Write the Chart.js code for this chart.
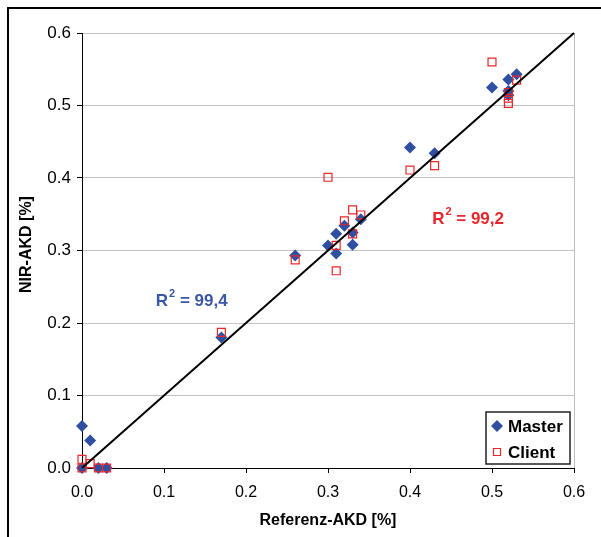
<!DOCTYPE html>
<html>
<head>
<meta charset="utf-8">
<script src="https://cdn.jsdelivr.net/npm/chart.js@4.4.1/dist/chart.umd.min.js"></script>
<style>
  html, body { margin: 0; padding: 0; background: #fff; }
  #wrap { position: relative; width: 601px; height: 537px; }
</style>
</head>
<body>
<div id="wrap"><canvas id="c" width="601" height="537"></canvas></div>
<script>
// ---- data ----
const seriesNames = ["Master", "Client"];
const masterX = [0, 0.01, 0, 0.02, 0.03, 0.17, 0.26, 0.30, 0.31, 0.31, 0.32, 0.33, 0.33, 0.34, 0.40, 0.43, 0.50, 0.52, 0.52, 0.52, 0.53];
const masterY = [0.058, 0.038, 0, 0, 0, 0.180, 0.293, 0.307, 0.323, 0.296, 0.334, 0.308, 0.325, 0.343, 0.442, 0.434, 0.525, 0.536, 0.520, 0.514, 0.543];
const clientX = [0, 0, 0.01, 0.02, 0.03, 0.17, 0.26, 0.30, 0.31, 0.31, 0.32, 0.33, 0.33, 0.34, 0.40, 0.43, 0.50, 0.52, 0.52, 0.52, 0.53];
const clientY = [0.012, 0, 0.006, 0, 0, 0.187, 0.287, 0.401, 0.307, 0.272, 0.341, 0.356, 0.323, 0.349, 0.411, 0.417, 0.560, 0.518, 0.503, 0.510, 0.535];
const lineX = [0, 0.6];
const lineY = [0, 0.6];
const tickValues = [0, 0.1, 0.2, 0.3, 0.4, 0.5, 0.6];
const xTitle = "Referenz-AKD [%]";
const yTitle = "NIR-AKD [%]";
const r2Labels = [
  { text: "R", sup: "2", rest: " = 99,4", x: 0.09, y: 0.23, color: "#3A56A6" },
  { text: "R", sup: "2", rest: " = 99,2", x: 0.427, y: 0.343, color: "#E8262B" }
];

const toPts = (xs, ys) => xs.map((x, i) => ({ x: x, y: ys[i] }));
const FONT = "'Liberation Sans', Arial, sans-serif";
const BLUE = "#2F4FA0";
const RED = "#E8262B";

const framePlugin = {
  id: "frame",
  beforeDraw(chart) {
    const ctx = chart.ctx;
    ctx.save();
    ctx.fillStyle = "#fff";
    ctx.fillRect(0, 0, chart.width, chart.height);
    ctx.strokeStyle = "#000";
    ctx.lineWidth = 2;
    ctx.beginPath();
    ctx.moveTo(8, chart.height);
    ctx.lineTo(8, 8);
    ctx.lineTo(chart.width, 8);
    ctx.stroke();
    ctx.restore();
  },
  beforeDatasetsDraw(chart) {
    const ctx = chart.ctx, a = chart.chartArea;
    ctx.save();
    ctx.strokeStyle = "#BDBDBD";
    ctx.lineWidth = 1;
    ctx.beginPath();
    ctx.moveTo(Math.round(a.right) + 0.5, a.top);
    ctx.lineTo(Math.round(a.right) + 0.5, a.bottom);
    ctx.stroke();
    ctx.restore();
  },
  afterDraw(chart) {
    const ctx = chart.ctx, a = chart.chartArea;
    const xs = chart.scales.x, ys = chart.scales.y;
    ctx.save();
    // y axis title (slightly above the axis centre, as in the reference)
    ctx.save();
    ctx.translate(27, (a.top + a.bottom) / 2 - 6);
    ctx.rotate(-Math.PI / 2);
    ctx.fillStyle = "#000";
    ctx.font = "bold 16px " + FONT;
    ctx.textAlign = "center";
    ctx.textBaseline = "middle";
    ctx.fillText(yTitle, 0, 0);
    ctx.restore();
    // R² labels
    r2Labels.forEach(l => {
      let px = xs.getPixelForValue(l.x), py = ys.getPixelForValue(l.y);
      ctx.fillStyle = l.color;
      ctx.textBaseline = "middle";
      ctx.textAlign = "left";
      ctx.font = "bold 17px " + FONT;
      ctx.fillText(l.text, px, py);
      px += ctx.measureText(l.text).width + 1;
      ctx.font = "bold 11px " + FONT;
      ctx.fillText(l.sup, px, py - 7);
      px += ctx.measureText(l.sup).width;
      ctx.font = "bold 17px " + FONT;
      ctx.fillText(l.rest, px, py);
    });
    // legend box
    const bw = 84, bh = 52;
    const bx = a.right - 88, by = a.bottom - 56;
    ctx.fillStyle = "#fff";
    ctx.fillRect(bx, by, bw, bh);
    ctx.strokeStyle = "#222";
    ctx.lineWidth = 1.5;
    ctx.strokeRect(bx, by, bw, bh);
    const ds = chart.data.datasets;
    seriesNames.forEach((name, i) => {
      const d = ds.find(x => x.label === name);
      const cy = by + 14 + i * 26;
      const cx = bx + 11;
      ctx.fillStyle = d.backgroundColor;
      ctx.strokeStyle = d.borderColor;
      ctx.lineWidth = d.borderWidth || 1;
      ctx.beginPath();
      if (d.pointStyle === "rectRot") {
        const r = 6;
        ctx.moveTo(cx, cy - r); ctx.lineTo(cx + r, cy); ctx.lineTo(cx, cy + r); ctx.lineTo(cx - r, cy); ctx.closePath();
        ctx.fill();
      } else {
        ctx.rect(cx - 3.5, cy - 3.5, 7, 7);
        ctx.stroke();
      }
      ctx.fillStyle = "#000";
      ctx.font = "bold 17px " + FONT;
      ctx.textAlign = "left";
      ctx.textBaseline = "middle";
      ctx.fillText(d.label, bx + 22, cy + 1);
    });
    ctx.restore();
  }
};

new Chart(document.getElementById("c"), {
  type: "scatter",
  data: {
    datasets: [
      {
        type: "line", label: "fit", data: toPts(lineX, lineY),
        borderColor: "#000", borderWidth: 2, pointRadius: 0, fill: false, order: 0, clip: false
      },
      {
        label: seriesNames[1], data: toPts(clientX, clientY),
        pointStyle: "rect", pointRadius: 5.6, pointHoverRadius: 5.6,
        backgroundColor: "rgba(0,0,0,0)", borderColor: RED, borderWidth: 1.2, order: 1, clip: false
      },
      {
        label: seriesNames[0], data: toPts(masterX, masterY),
        pointStyle: "rectRot", pointRadius: 6, pointHoverRadius: 6,
        backgroundColor: BLUE, borderColor: BLUE, borderWidth: 0, order: 2, clip: false
      }
    ]
  },
  options: {
    responsive: false,
    animation: false,
    events: [],
    layout: { padding: { left: 8, top: 33, right: 27, bottom: 0 } },
    plugins: { legend: { display: false }, tooltip: { enabled: false } },
    scales: {
      x: {
        type: "linear", min: 0, max: 0.6,
        afterFit(s) { s.height = 69; },
        afterBuildTicks(s) { s.ticks = tickValues.map(v => ({ value: v })); },
        grid: { drawOnChartArea: false, drawTicks: true, tickLength: 5, tickColor: "#000" },
        border: { display: true, color: "#000", width: 1 },
        ticks: { color: "#000", padding: 10, maxRotation: 0, font: { family: FONT, size: 16 }, callback: v => v.toFixed(1) },
        title: { display: true, text: xTitle, color: "#000", font: { family: FONT, size: 16, weight: "bold" }, padding: { top: 0, bottom: 6.4 } }
      },
      y: {
        type: "linear", min: 0, max: 0.6,
        afterFit(s) { s.width = 74; },
        afterBuildTicks(s) { s.ticks = tickValues.map(v => ({ value: v })); },
        grid: { color: "#C4C4C4", lineWidth: 1, drawTicks: true, tickLength: 5, tickColor: "#000" },
        border: { display: true, color: "#000", width: 1 },
        ticks: { color: "#000", padding: 6, font: { family: FONT, size: 17 }, callback: v => v.toFixed(1) },
        title: { display: false, text: yTitle }
      }
    }
  },
  plugins: [framePlugin]
});
</script>
</body>
</html>
